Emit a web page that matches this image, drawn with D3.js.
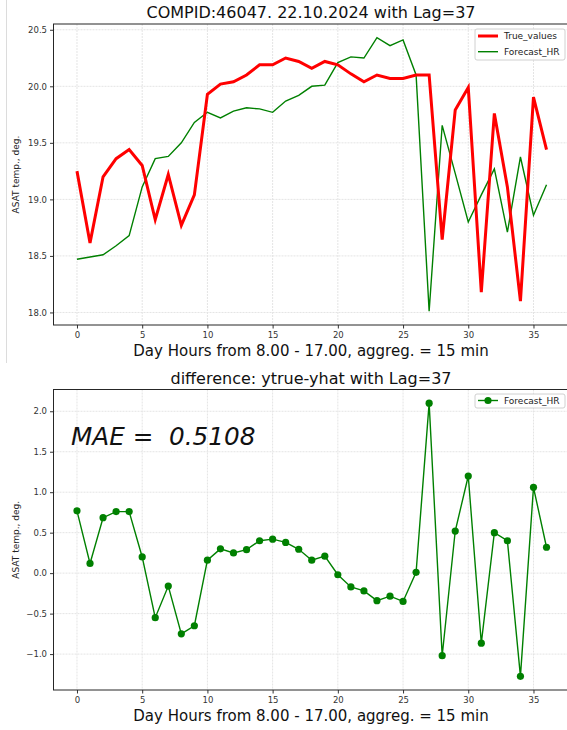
<!DOCTYPE html>
<html>
<head>
<meta charset="utf-8">
<script src="https://cdn.jsdelivr.net/npm/d3@7/dist/d3.min.js"></script>
<style>
  body { margin: 0; background: #fff; }
  svg { display: block; font-family: 'DejaVu Sans', sans-serif; }
  text { white-space: pre; }
</style>
</head>
<body>
<svg id="chart" width="567" height="730"></svg>
<script>
// 15 minute steps, 8.00 - 17.00
var steps = [0, 1, 2, 3, 4, 5, 6, 7, 8, 9, 10, 11, 12, 13, 14, 15, 16, 17, 18,
  19, 20, 21, 22, 23, 24, 25, 26, 27, 28, 29, 30, 31, 32, 33, 34, 35, 36];

var trueValues = [19.25, 18.615, 19.20, 19.36, 19.44, 19.30, 18.82, 19.22, 18.77, 19.04,
  19.93, 20.02, 20.04, 20.10, 20.19, 20.19, 20.25, 20.22, 20.16, 20.22,
  20.19, 20.11, 20.04, 20.10, 20.07, 20.07, 20.10, 20.10, 18.645, 19.79,
  19.99, 18.18, 19.76, 19.11, 18.10, 19.905, 19.44];

var forecastHR = [18.47, 18.49, 18.51, 18.59, 18.68, 19.11, 19.36, 19.38, 19.50, 19.68,
  19.77, 19.72, 19.78, 19.81, 19.80, 19.77, 19.87, 19.92, 20.00, 20.01,
  20.21, 20.26, 20.25, 20.43, 20.36, 20.41, 20.10, 18.01, 19.655, 19.23,
  18.80, 19.04, 19.27, 18.71, 19.375, 18.86, 19.13];

var diffValues = [0.77, 0.12, 0.685, 0.76, 0.76, 0.20, -0.55, -0.16, -0.75, -0.65,
  0.16, 0.30, 0.25, 0.29, 0.40, 0.42, 0.38, 0.295, 0.16, 0.21,
  -0.02, -0.17, -0.22, -0.34, -0.285, -0.35, 0.01, 2.10, -1.02, 0.52,
  1.20, -0.865, 0.50, 0.40, -1.275, 1.06, 0.32];

var xTicks = [0, 5, 10, 15, 20, 25, 30, 35];
var topYTicks = [18.0, 18.5, 19.0, 19.5, 20.0, 20.5];
var bottomYTicks = [-1.0, -0.5, 0.0, 0.5, 1.0, 1.5, 2.0];

var lag = 37;
var mae = 0.5108;
var xLabel = 'Day Hours from 8.00 - 17.00, aggreg. = 15 min';
var yLabel = 'ASAT temp., deg.';

var svg = d3.select('#chart');
var left = 53.5;
var right = 570;

// notebook cell border on the left
svg.append('line')
    .attr('x1', 6.5).attr('x2', 6.5)
    .attr('y1', 0).attr('y2', 363)
    .attr('stroke', '#dcdcdc');

/**
 * matplotlib style 5% padding around the data.
 */
function paddedDomain(series) {
  var all = d3.merge(series);
  var ext = d3.extent(all);
  var pad = (ext[1] - ext[0]) * 0.05;
  return [ext[0] - pad, ext[1] + pad];
}

var x = d3.scaleLinear()
    .domain([steps[0] - 1.8, steps[steps.length - 1] + 1.8])
    .range([left, right]);

/**
 * Draws frame, grid, ticks and labels of one panel, returns its y scale.
 */
function drawPanel(top, bottom, domain, yTicks, title) {
  var y = d3.scaleLinear().domain(domain).range([bottom, top]);
  var g = svg.append('g');

  // grid
  g.selectAll('.gx').data(xTicks).enter().append('line')
      .attr('x1', function(d) { return x(d); })
      .attr('x2', function(d) { return x(d); })
      .attr('y1', top).attr('y2', bottom)
      .attr('stroke', '#e4e4e4').attr('stroke-dasharray', '2,1');
  g.selectAll('.gy').data(yTicks).enter().append('line')
      .attr('x1', left).attr('x2', right)
      .attr('y1', function(d) { return y(d); })
      .attr('y2', function(d) { return y(d); })
      .attr('stroke', '#e4e4e4').attr('stroke-dasharray', '2,1');

  var fmt = function(d) { return d3.format('.1f')(d).replace('-', '\u2212'); };

  var yAxis = g.append('g')
      .attr('transform', 'translate(' + left + ',0)')
      .call(d3.axisLeft(y).tickValues(yTicks).tickFormat(fmt).tickSize(3.5).tickPadding(3));
  var xAxis = g.append('g')
      .attr('transform', 'translate(0,' + bottom + ')')
      .call(d3.axisBottom(x).tickValues(xTicks).tickSize(3.5).tickPadding(3));
  [yAxis, xAxis].forEach(function(a) {
    a.select('.domain').remove();
    a.selectAll('text').attr('fill', '#333').style('font-size', '8.5px')
        .style('font-family', "'DejaVu Sans', sans-serif");
    a.selectAll('line').attr('stroke', '#333');
  });

  // frame
  g.append('rect')
      .attr('x', left).attr('y', top)
      .attr('width', right - left).attr('height', bottom - top)
      .attr('fill', 'none').attr('stroke', '#262626').attr('stroke-width', 1);

  g.append('text')
      .attr('x', 311).attr('y', top - 6)
      .attr('text-anchor', 'middle')
      .style('font-size', '16px').attr('fill', '#111')
      .text(title);

  g.append('text')
      .attr('x', 311).attr('y', bottom + 31)
      .attr('text-anchor', 'middle')
      .style('font-size', '15px').attr('fill', '#111')
      .text(xLabel);

  g.append('text')
      .attr('transform', 'translate(19,' + ((top + bottom) / 2) + ') rotate(-90)')
      .attr('text-anchor', 'middle')
      .style('font-size', '9px').attr('fill', '#222')
      .text(yLabel);

  return y;
}

// top panel: true values vs forecast
var yTop = drawPanel(24, 325, paddedDomain([trueValues, forecastHR]), topYTicks,
    'COMPID:46047. 22.10.2024 with Lag=' + lag);

var lineTop = d3.line()
    .x(function(d, i) { return x(steps[i]); })
    .y(function(d) { return yTop(d); });

svg.append('path').datum(forecastHR)
    .attr('d', lineTop).attr('fill', 'none')
    .attr('stroke', 'green').attr('stroke-width', 1.4);
svg.append('path').datum(trueValues)
    .attr('d', lineTop).attr('fill', 'none')
    .attr('stroke', 'red').attr('stroke-width', 3);

// top legend
var legTop = svg.append('g');
legTop.append('rect')
    .attr('x', 475).attr('y', 29).attr('width', 90).attr('height', 31)
    .attr('rx', 2).attr('fill', 'white').attr('fill-opacity', 0.8)
    .attr('stroke', '#d0d0d0');
[['True_values', 'red', 3], ['Forecast_HR', 'green', 1.4]].forEach(function(item, i) {
  var ly = 36 + i * 15.7;
  legTop.append('line')
      .attr('x1', 478).attr('x2', 498).attr('y1', ly).attr('y2', ly)
      .attr('stroke', item[1]).attr('stroke-width', item[2]);
  legTop.append('text')
      .attr('x', 504).attr('y', ly + 3.3)
      .style('font-size', '9px').attr('fill', '#222')
      .text(item[0]);
});

// bottom panel: difference
var yBot = drawPanel(389.5, 690, paddedDomain([diffValues]), bottomYTicks,
    'difference: ytrue-yhat with Lag=' + lag);

var lineBot = d3.line()
    .x(function(d, i) { return x(steps[i]); })
    .y(function(d) { return yBot(d); });

svg.append('path').datum(diffValues)
    .attr('d', lineBot).attr('fill', 'none')
    .attr('stroke', 'green').attr('stroke-width', 1.4);
svg.selectAll('.dot').data(diffValues).enter().append('circle')
    .attr('class', 'dot')
    .attr('cx', function(d, i) { return x(steps[i]); })
    .attr('cy', function(d) { return yBot(d); })
    .attr('r', 3.6)
    .attr('fill', 'green');

svg.append('text')
    .attr('x', 71).attr('y', 445)
    .style('font-size', '24.7px').style('font-style', 'italic').attr('fill', '#111')
    .text('MAE =  ' + mae.toFixed(4));

// bottom legend
var legBot = svg.append('g');
legBot.append('rect')
    .attr('x', 475).attr('y', 394).attr('width', 90).attr('height', 14)
    .attr('rx', 2).attr('fill', 'white').attr('fill-opacity', 0.8)
    .attr('stroke', '#d0d0d0');
legBot.append('line')
    .attr('x1', 478).attr('x2', 498).attr('y1', 400.5).attr('y2', 400.5)
    .attr('stroke', 'green').attr('stroke-width', 1.4);
legBot.append('circle')
    .attr('cx', 488).attr('cy', 400.5).attr('r', 3.6).attr('fill', 'green');
legBot.append('text')
    .attr('x', 504).attr('y', 403.8)
    .style('font-size', '9px').attr('fill', '#222')
    .text('Forecast_HR');
</script>
</body>
</html>
